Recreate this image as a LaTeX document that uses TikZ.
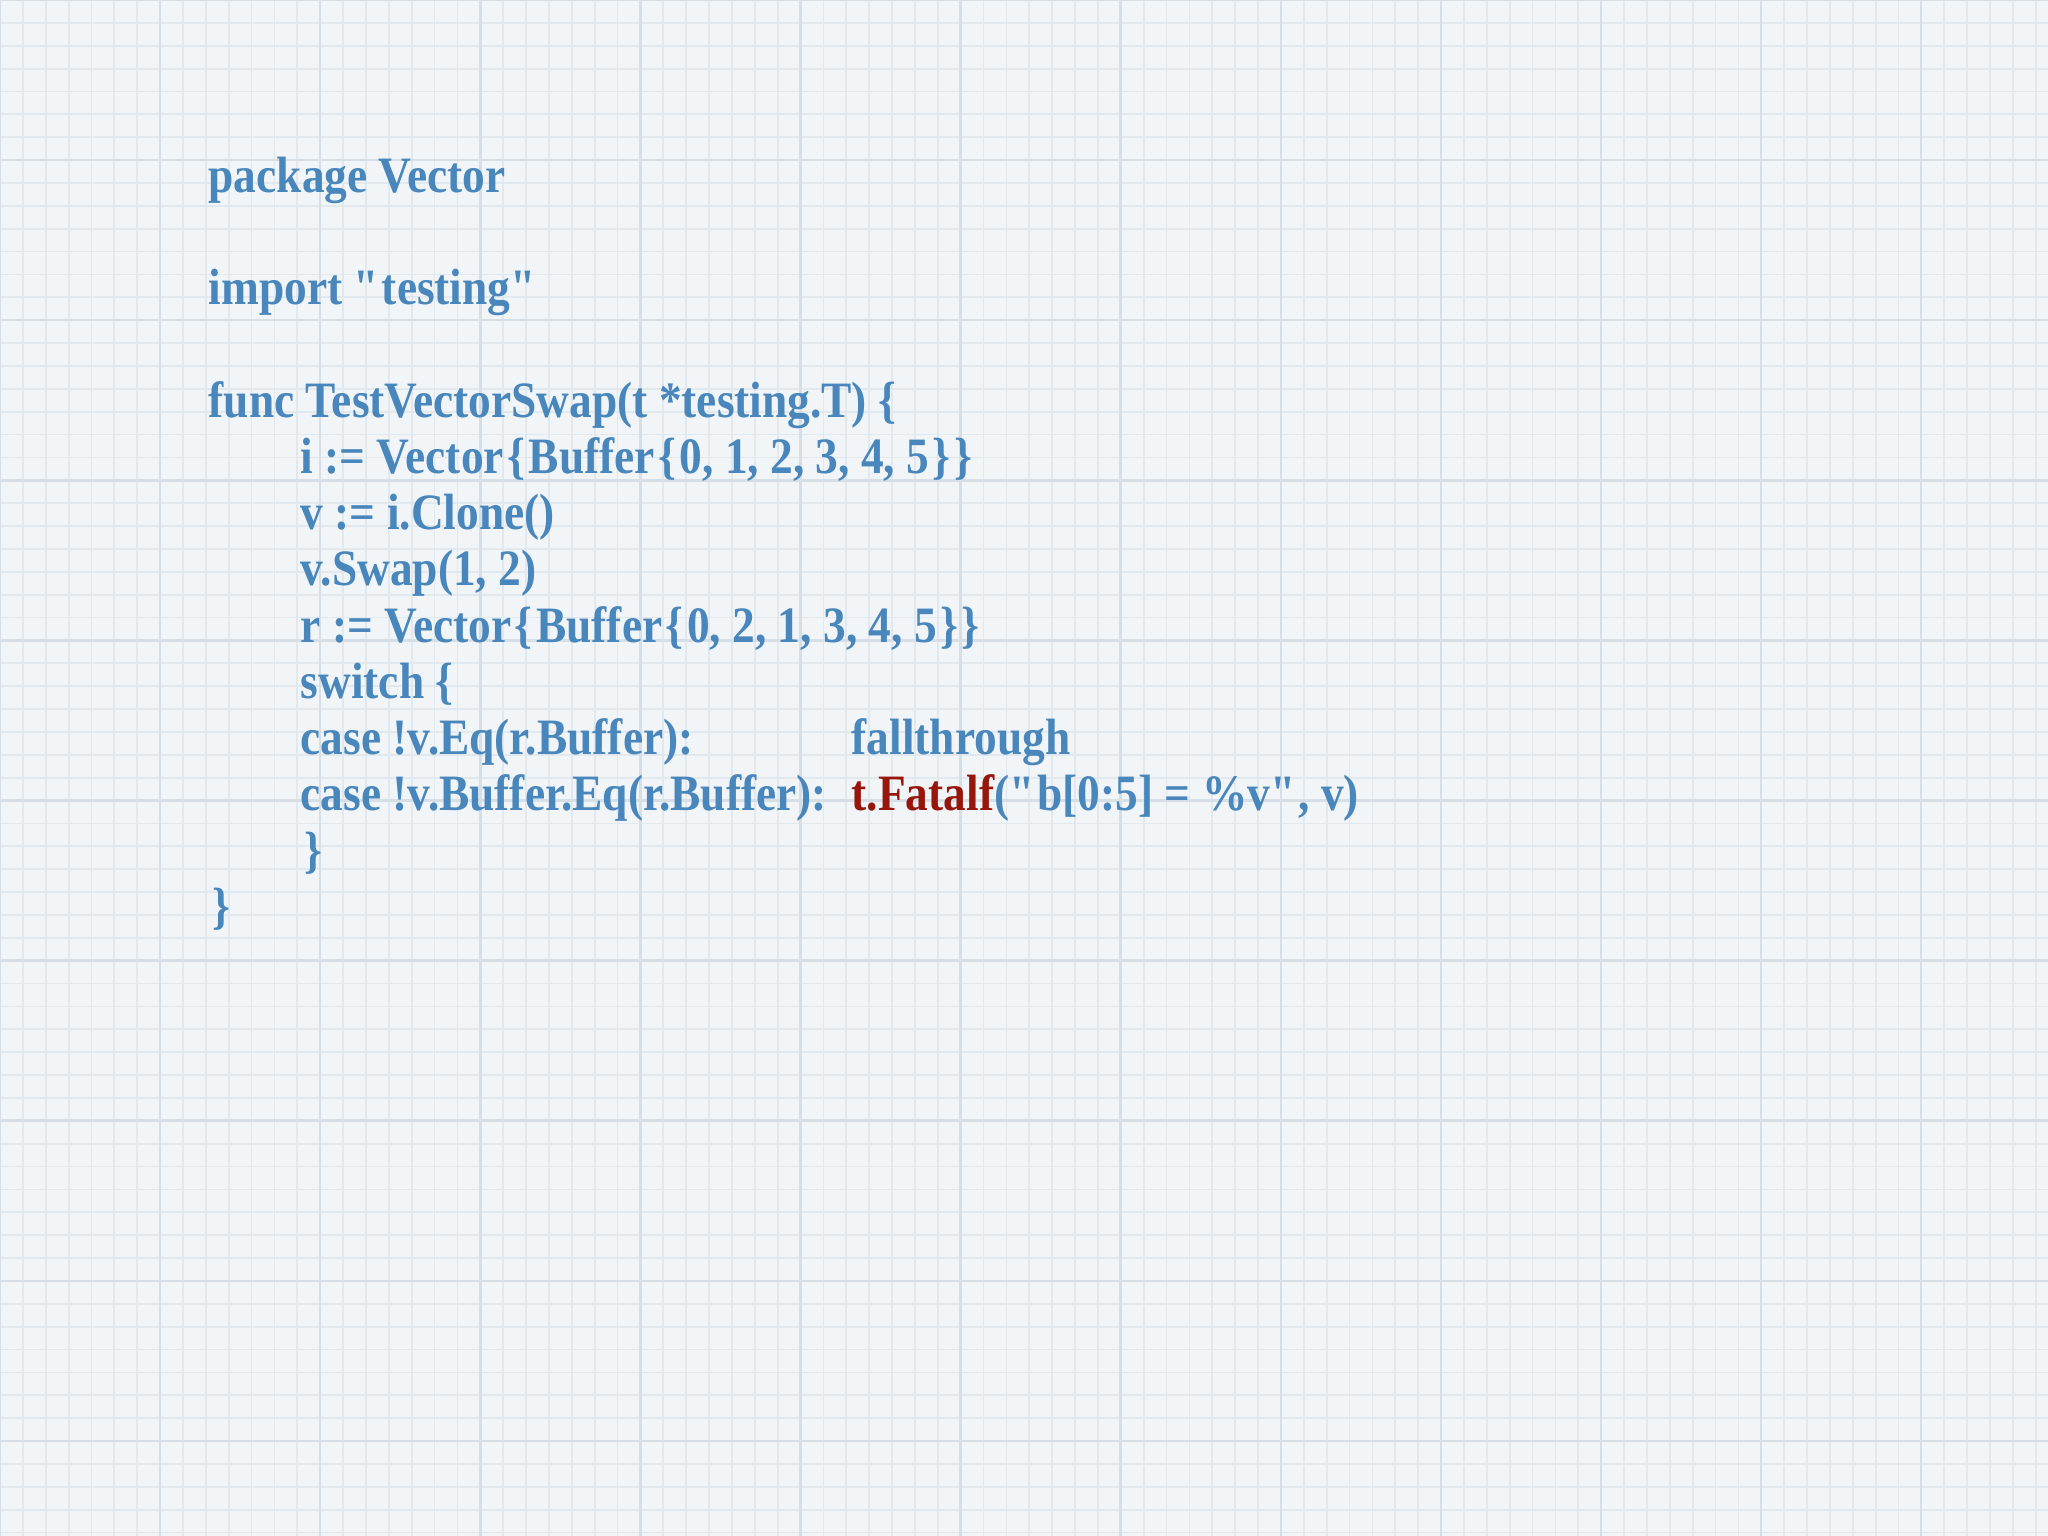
\documentclass[tikz,border=0pt]{standalone}
\usepackage{fontspec}
\setmainfont{Liberation Serif}[FakeStretch=0.89]
\definecolor{codeblue}{RGB}{72,134,188}
\definecolor{codered}{RGB}{150,22,12}
\definecolor{gridminor}{RGB}{226,233,238}
\definecolor{gridmajor}{RGB}{214,223,230}
\definecolor{paper}{RGB}{241,245,247}
\newcommand{\qq}{\textquotedbl}
\newcommand{\lb}{\kern1pt\{\kern1pt}
\newcommand{\rb}{\kern1pt\}\kern1pt}
\begin{document}
\begin{tikzpicture}[x=0.01cm,y=-0.01cm,
  code/.style={anchor=base west,inner sep=0pt,text=codeblue,font=\fontsize{14.5}{16}\selectfont\bfseries}]
\fill[paper] (0,0) rectangle (2048,1536);
\useasboundingbox (0,0) rectangle (2048,1536);
\draw[gridminor,line width=0.5pt,step=0.2286cm] (0,0) grid (2048,1536);
\draw[gridmajor,line width=0.7pt,step=1.6cm] (0,0) grid (2048,1536);
\node[code] (l0) at (208,192) {package Vector};
\node[code] (l2) at (208,304) {import \qq testing\qq};
\node[code] (l4) at (208,417) {func TestVectorSwap(t *testing.T) \{};
\node[code] (l5) at (300,473) {i := Vector\lb Buffer\lb 0, 1, 2, 3, 4, 5\rb\}};
\node[code] (l6) at (300,529) {v := i.Clone()};
\node[code] (l7) at (300,585) {v.Swap(1, 2)};
\node[code] (l8) at (300,642) {r := Vector\lb Buffer\lb 0, 2, 1, 3, 4, 5\rb\}};
\node[code] (l9) at (300,698) {switch \{};
\node[code] (l10) at (300,754) {case !v.Eq(r.Buffer):};
\node[code] (l10b) at (851,754) {fallthrough};
\node[code] (l11) at (300,810) {case !v.Buffer.Eq(r.Buffer):};
\node[code] (l11b) at (851,810) {\textcolor{codered}{t.Fatalf}(\qq b[0:5] = \%v\qq, v)};
\node[code] (l12) at (304,867) {\}};
\node[code] (l13) at (212,923) {\}};
\end{tikzpicture}
\end{document}
